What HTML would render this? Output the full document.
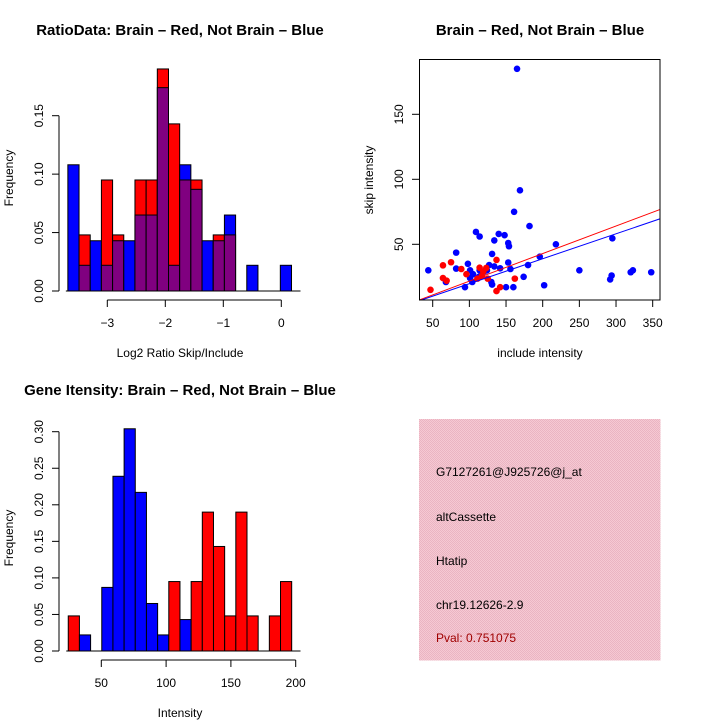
<!DOCTYPE html>
<html><head><meta charset="utf-8"><style>
body{margin:0;background:#fff}
svg text{font-family:"Liberation Sans",sans-serif;font-size:12px;fill:#000}
.t{font-weight:bold;font-size:15px}
</style></head><body>
<svg id="s" width="720" height="720" viewBox="0 0 720 720">
<defs>
<pattern id="pk" width="2" height="2" patternUnits="userSpaceOnUse"><rect width="2" height="2" fill="#f6c9d3"/><rect width="1" height="1" fill="#eab4c2"/><rect x="1" y="1" width="1" height="1" fill="#eab4c2"/></pattern>
</defs>
<text class="t" x="180" y="35" text-anchor="middle">RatioData: Brain – Red, Not Brain – Blue</text>
<text class="t" x="540" y="35" text-anchor="middle">Brain – Red, Not Brain – Blue</text>
<text class="t" x="180" y="395" text-anchor="middle">Gene Itensity: Brain – Red, Not Brain – Blue</text>
<text x="180" y="357" text-anchor="middle">Log2 Ratio Skip/Include</text>
<text x="540" y="357" text-anchor="middle">include intensity</text>
<text x="180" y="717" text-anchor="middle">Intensity</text>
<text transform="translate(13,178) rotate(-90)" text-anchor="middle">Frequency</text>
<text transform="translate(373,180) rotate(-90)" text-anchor="middle">skip intensity</text>
<text transform="translate(13,538) rotate(-90)" text-anchor="middle">Frequency</text>
<rect x="419" y="419" width="241.5" height="241.5" fill="url(#pk)"/>
<text x="436" y="476">G7127261@J925726@j_at</text>
<text x="436" y="521">altCassette</text>
<text x="436" y="565">Htatip</text>
<text x="436" y="609">chr19.12626-2.9</text>
<text x="436" y="642" style="fill:#a00000">Pval: 0.751075</text>
<g id="g1"></g><g id="g2"></g><g id="g3"></g>
</svg>
<script>
// Ratio histogram
const ratioBreakStart = -3.68, ratioBinW = 0.1928;
const ratioBlue = [0.108,0.022,0.043,0.022,0.043,0.043,0.065,0.065,0.174,0.022,0.108,0.087,0.043,0.043,0.065,0,0.022,0,0,0.022];
const ratioRed  = [0,0.048,0,0.095,0.048,0,0.095,0.095,0.190,0.143,0.095,0.095,0,0.048,0.048,0,0,0,0,0];
const ratioXTicks = [-3,-2,-1,0];
const ratioYTicks = [0,0.05,0.10,0.15];
const ratioYLabels = ["0.00","0.05","0.10","0.15"];
// Scatter
const blueX = [44,165,169,161,182,109,114,140,148,134,153,154,82,131,218,196,295,250,98,82,153,180,156,127,134,142,101,114,124,105,113,101,104,68,94,130,131,150,160,174,202,292,294,320,323,348,120];
const blueY = [30,185,91.5,75,64,59.5,56,58,57,53,51,48.5,43.6,42.6,50,40.5,54.6,30,35,31.3,36,34,31,34,33,31.5,30,30,30,27,25,24,21,21,17,21,19,17,17,25,18.5,23,26,28.5,30,28.5,29];
const redX = [47,64,75,64,69,89,96,114,111,117,125,123,137,137,142,162,119];
const redY = [15,33.8,36.2,24,22,31,27,32,23.6,25.6,23.6,31.8,38,14,17,23.6,29];
const redFit = [0.47,0.212];
const blueFit = [0.5,0.192];
const scXTicks = [50,100,150,200,250,300,350];
const scYTicks = [50,100,150];
// Intensity histogram
const intBreakStart = 24.5, intBinW = 8.62;
const intBlue = [0,0.022,0,0.087,0.239,0.304,0.217,0.065,0.022,0,0.043,0,0,0,0,0,0,0,0,0];
const intRed  = [0.048,0,0,0,0,0,0,0,0,0.095,0,0.095,0.190,0.143,0.048,0.190,0.048,0,0.048,0.095];
const intXTicks = [50,100,150,200];
const intYTicks = [0,0.05,0.10,0.15,0.20,0.25,0.30];
const intYLabels = ["0.00","0.05","0.10","0.15","0.20","0.25","0.30"];

const NS="http://www.w3.org/2000/svg";
function mk(p,tag,a){const e=document.createElementNS(NS,tag);for(const k in a)e.setAttribute(k,a[k]);p.appendChild(e);return e;}
function txt(p,x,y,s,rot){const e=mk(p,'text',{x:x,y:y,'text-anchor':'middle'});if(rot)e.setAttribute('transform','rotate(-90 '+x+' '+y+')');e.textContent=s;return e;}

// Panel 1
(function(){
  const g=document.getElementById('g1');
  const X=v=>165.3+(v+2)*58, Y=v=>291-v*(175.3/0.15);
  for(let i=0;i<ratioBlue.length;i++){
    const x0=X(ratioBreakStart+i*ratioBinW), x1=X(ratioBreakStart+(i+1)*ratioBinW);
    const b=ratioBlue[i], r=ratioRed[i], mx=Math.max(b,r), mn=Math.min(b,r);
    if(mx>0){const e=mk(g,'rect',{x:x0,y:Y(mx),width:x1-x0,height:Y(0)-Y(mx),fill:b>=r?'#0000ff':'#ff0000',stroke:'#000','stroke-width':1});
      
      }
    if(mn>0){const e=mk(g,'rect',{x:x0,y:Y(mn),width:x1-x0,height:Y(0)-Y(mn),fill:'#800080',stroke:'#000','stroke-width':1});
      
      }
  }
  mk(g,'line',{x1:X(ratioBreakStart)-2,x2:300.5,y1:291,y2:291,stroke:'#000'});
  mk(g,'line',{x1:59,x2:59,y1:Y(0),y2:Y(0.15),stroke:'#000'});
  ratioYTicks.forEach((v,i)=>{mk(g,'line',{x1:52,x2:59,y1:Y(v),y2:Y(v),stroke:'#000'});txt(g,43,Y(v),ratioYLabels[i],true);});
  mk(g,'line',{x1:X(-3),x2:X(0),y1:300,y2:300,stroke:'#000'});
  ratioXTicks.forEach(v=>{mk(g,'line',{x1:X(v),x2:X(v),y1:300,y2:307,stroke:'#000'});txt(g,X(v),327,v===0?'0':'−'+Math.abs(v));});
})();

// Panel 2
(function(){
  const g=document.getElementById('g2');
  const X=v=>432.7+(v-50)*0.7333, Y=v=>309.3-v*1.3;
  const cp=mk(document.querySelector('defs'),'clipPath',{id:'scClip'});
  mk(cp,'rect',{x:419.5,y:59.5,width:240.5,height:240.5});
  const c=mk(g,'g',{'clip-path':'url(#scClip)'});
  for(let i=0;i<blueX.length;i++){const e=mk(c,'circle',{cx:X(blueX[i]),cy:Y(blueY[i]),r:3.3,fill:'#0000ff'});
    
    }
  for(let i=0;i<redX.length;i++){const e=mk(c,'circle',{cx:X(redX[i]),cy:Y(redY[i]),r:3.3,fill:'#ff0000'});
    
    }
  const l1=mk(c,'line',{x1:X(20),y1:Y(redFit[0]+redFit[1]*20),x2:X(380),y2:Y(redFit[0]+redFit[1]*380),stroke:'#ff0000'});
  
  
  const l2=mk(c,'line',{x1:X(20),y1:Y(blueFit[0]+blueFit[1]*20),x2:X(380),y2:Y(blueFit[0]+blueFit[1]*380),stroke:'#0000ff'});
  
  
  mk(g,'rect',{x:419.5,y:59.5,width:240.5,height:240.5,fill:'none',stroke:'#000'});
  scXTicks.forEach(v=>{mk(g,'line',{x1:X(v),x2:X(v),y1:300,y2:307,stroke:'#000'});txt(g,X(v),327,String(v));});
  scYTicks.forEach(v=>{mk(g,'line',{x1:412,x2:419.5,y1:Y(v),y2:Y(v),stroke:'#000'});txt(g,403,Y(v),String(v),true);});
})();

// Panel 3
(function(){
  const g=document.getElementById('g3');
  const X=v=>101.3+(v-50)*1.296, Y=v=>651-v*(219.3/0.30);
  for(let i=0;i<intBlue.length;i++){
    const x0=X(intBreakStart+i*intBinW), x1=X(intBreakStart+(i+1)*intBinW);
    [[intBlue[i],'#0000ff','intensity-blue-bar'],[intRed[i],'#ff0000','intensity-red-bar']].forEach(([v,col,nm])=>{
      if(v>0){const e=mk(g,'rect',{x:x0,y:Y(v),width:x1-x0,height:Y(0)-Y(v),fill:col,stroke:'#000','stroke-width':1});
        
        }
    });
  }
  mk(g,'line',{x1:X(intBreakStart)-2,x2:300.5,y1:651,y2:651,stroke:'#000'});
  mk(g,'line',{x1:59,x2:59,y1:Y(0),y2:Y(0.30),stroke:'#000'});
  intYTicks.forEach((v,i)=>{mk(g,'line',{x1:52,x2:59,y1:Y(v),y2:Y(v),stroke:'#000'});txt(g,43,Y(v),intYLabels[i],true);});
  mk(g,'line',{x1:X(50),x2:X(200),y1:660,y2:660,stroke:'#000'});
  intXTicks.forEach(v=>{mk(g,'line',{x1:X(v),x2:X(v),y1:660,y2:667,stroke:'#000'});txt(g,X(v),687,String(v));});
})();
</script>
</body></html>
